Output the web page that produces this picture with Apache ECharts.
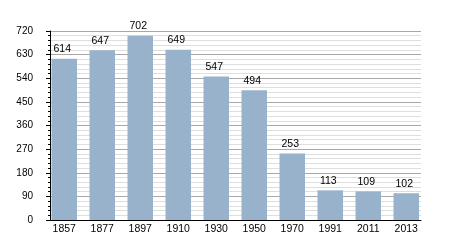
<!DOCTYPE html>
<html>
<head>
<meta charset="utf-8">
<script src="https://cdn.jsdelivr.net/npm/echarts@6/dist/echarts.min.js"></script>
<style>html,body{margin:0;padding:0;background:#fff}#c{width:450px;height:250px}</style>
</head>
<body>
<div id="c"></div>
<script>
const years = ['1857','1877','1897','1910','1930','1950','1970','1991','2011','2013'];
const population = [614, 647, 702, 649, 547, 494, 253, 113, 109, 102];
const yMin = 0, yMax = 720, yStep = 90;

const font = '"Liberation Sans", Arial, sans-serif';
const chart = echarts.init(document.getElementById('c'), null, {renderer: 'canvas'});
chart.setOption({
  animation: false,
  backgroundColor: '#fff',
  grid: [
    {left: 45.25, width: 380, top: 31, height: 189, containLabel: false},
    {left: 50, width: 371, top: 31, height: 189, containLabel: false}
  ],
  xAxis: [
    {
      type: 'category', gridIndex: 0, data: years,
      axisLine: {show: false}, axisTick: {show: false},
      axisLabel: {fontSize: 10.5, color: '#000', margin: 4, fontFamily: font, offset: [-1, 0]}
    },
    {
      type: 'value', gridIndex: 1, min: 0, max: 1,
      axisLine: {show: true, lineStyle: {color: '#000', width: 1}},
      axisTick: {show: false}, axisLabel: {show: false}, splitLine: {show: false}
    }
  ],
  yAxis: [
    {type: 'value', gridIndex: 0, min: yMin, max: yMax, show: false},
    {
      type: 'value', gridIndex: 1, min: yMin, max: yMax, interval: yStep,
      axisLine: {show: true, lineStyle: {color: '#000', width: 1}},
      axisTick: {show: true, length: 4, lineStyle: {color: '#000'}},
      minorTick: {show: true, splitNumber: 5, length: 2, lineStyle: {color: '#000'}},
      axisLabel: {fontSize: 10, color: '#000', margin: 17, fontFamily: font},
      splitLine: {show: true, lineStyle: {color: '#a8a8a8', width: 1}},
      minorSplitLine: {show: true, lineStyle: {color: '#dedede', width: 1}}
    }
  ],
  series: [{
    type: 'bar', xAxisIndex: 0, yAxisIndex: 0, data: population,
    barWidth: 25.5,
    itemStyle: {color: '#98b2cc'},
    z: 5,
    label: {show: true, position: 'top', distance: 4, fontSize: 10.5, color: '#000', fontFamily: font, offset: [-2, 0]}
  }]
});
</script>
</body>
</html>
